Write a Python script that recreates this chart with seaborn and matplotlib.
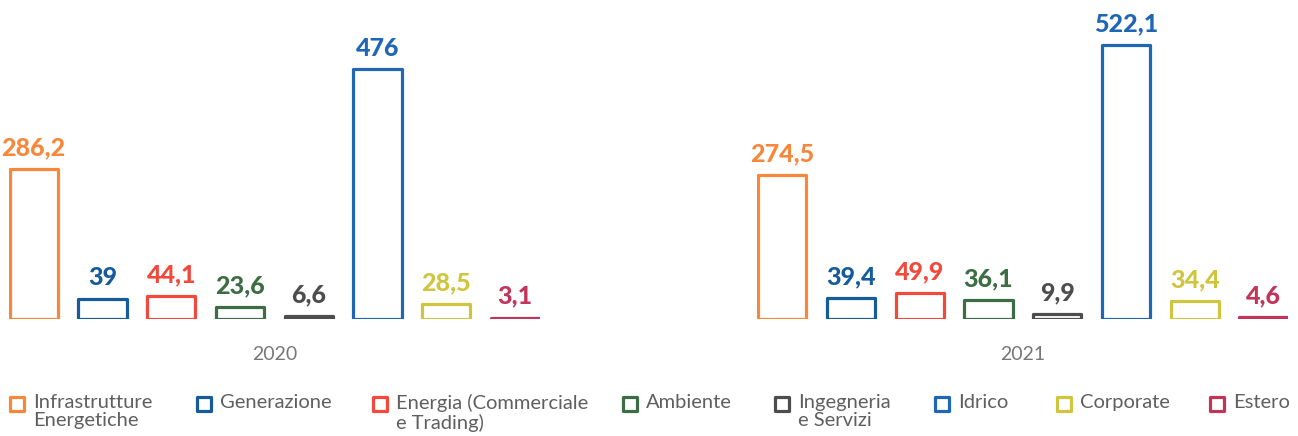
import matplotlib
matplotlib.use("Agg")
import matplotlib.pyplot as plt
from matplotlib.patches import Rectangle
import seaborn as sns
import pandas as pd

# Segment names, as listed in the legend
categories = [
    "Infrastrutture\nEnergetiche",
    "Generazione",
    "Energia (Commerciale\ne Trading)",
    "Ambiente",
    "Ingegneria\ne Servizi",
    "Idrico",
    "Corporate",
    "Estero",
]
years = ["2020", "2021"]
values_2020 = [286.2, 39, 44.1, 23.6, 6.6, 476, 28.5, 3.1]
values_2021 = [274.5, 39.4, 49.9, 36.1, 9.9, 522.1, 34.4, 4.6]
colors = ["#F7883B", "#165C9B", "#F2493C", "#3D6D45",
          "#4D4D4D", "#1F67B5", "#D0C53F", "#C2345A"]

sns.set_theme(style="white")
plt.rcParams["font.family"] = ["Lato", "DejaVu Sans"]

W, H = 1298, 436
fig = plt.figure(figsize=(W / 100, H / 100), dpi=100)
ax_l = fig.add_axes([0.0069, 0.268, 0.409, 0.686])
ax_r = fig.add_axes([0.5835, 0.268, 0.409, 0.686])


def fmt(v):
    return f"{v:g}".replace(".", ",")


palette = dict(zip(categories, colors))
for ax, year, vals in [(ax_l, years[0], values_2020), (ax_r, years[1], values_2021)]:
    df = pd.DataFrame({"segment": categories, "value": vals})
    sns.barplot(data=df, x="segment", y="value", hue="segment",
                palette=palette, fill=False, linewidth=2.3, width=0.7,
                legend=False, ax=ax, order=categories, hue_order=categories)
    bars = [p for p in ax.patches if p.get_height() == p.get_height()]
    bars = sorted(bars, key=lambda p: p.get_x())
    for p, v, c in zip(bars, vals, colors):
        p.set_facecolor("white")
        p.set_edgecolor(c)
        p.set_joinstyle("round")
        ax.annotate(fmt(v), (p.get_x() + p.get_width() / 2, v),
                    xytext=(0, 7), textcoords="offset points",
                    ha="center", va="bottom", color=c,
                    fontsize=18, fontweight="black")
    ax.set_xlim(-0.36, 7.36)
    ax.set_ylim(0, 570)
    ax.set_xticks([])
    ax.set_yticks([])
    ax.set_xlabel(year, color="#777777", fontsize=14, labelpad=19)
    ax.set_ylabel("")
    for s in ax.spines.values():
        s.set_visible(False)

# Legend row: outlined square followed by the segment name
legend_x = [10, 197, 373, 623, 775, 935, 1057, 1210]
sq = 14
for x0, name, c in zip(legend_x, categories, colors):
    fig.add_artist(Rectangle((x0 / W, (H - 411) / H), sq / W, sq / H,
                             transform=fig.transFigure, facecolor="white",
                             edgecolor=c, linewidth=2.3, joinstyle="round"))
    fig.text((x0 + 23) / W, (H - 394) / H, name, ha="left", va="top",
             fontsize=14.5, color="#5f5f5f", fontweight="normal",
             linespacing=1.1)

fig.savefig("out.png", dpi=100, facecolor="white")
